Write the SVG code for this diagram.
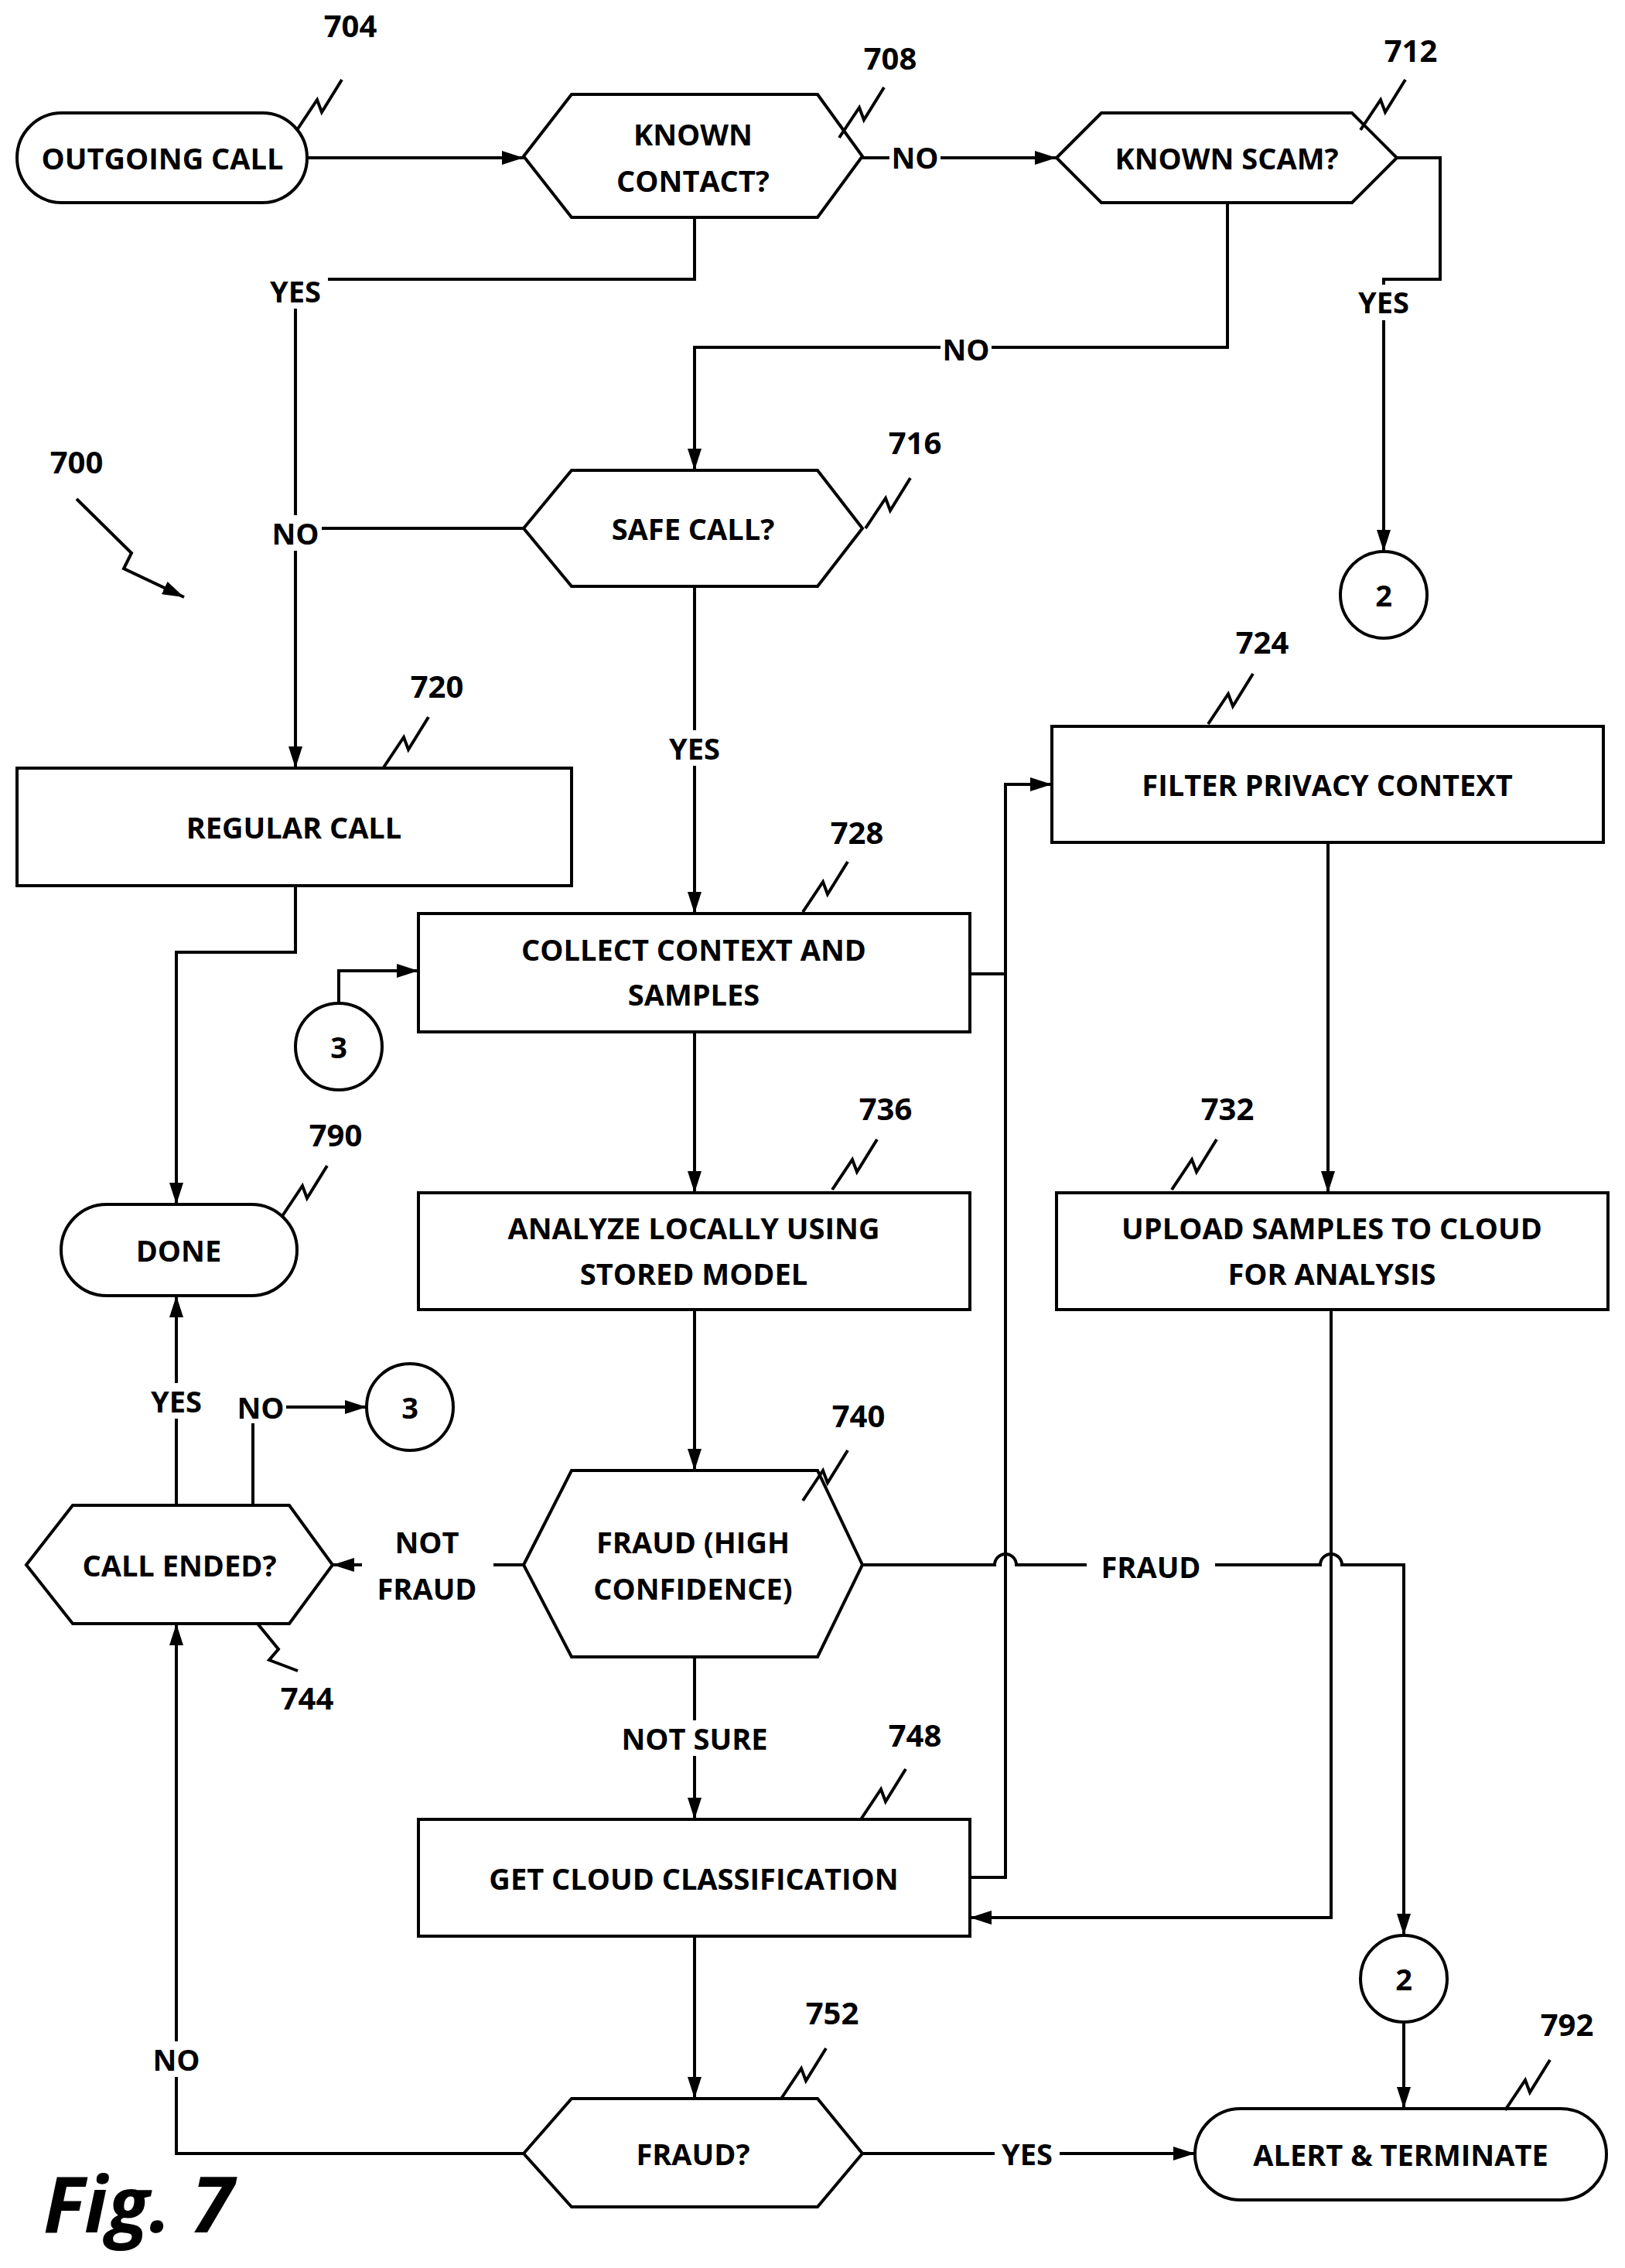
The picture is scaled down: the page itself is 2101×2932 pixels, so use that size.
<svg xmlns="http://www.w3.org/2000/svg" width="2101" height="2932" viewBox="0 0 2101 2932">
<defs>
<style>
.s{fill:#fff;stroke:#000;stroke-width:4}
.c{fill:none;stroke:#000;stroke-width:4}
.t{font-family:"Open Sans","Liberation Sans",sans-serif;font-weight:700;font-size:38px;text-anchor:middle;dominant-baseline:central;fill:#000}
.r{font-family:"Open Sans","Liberation Sans",sans-serif;font-weight:700;font-size:40px;text-anchor:middle;fill:#000}
.lb{fill:#fff;stroke:none}
</style>
<marker id="a" viewBox="0 0 28 18" refX="28" refY="9" markerWidth="28" markerHeight="18" markerUnits="userSpaceOnUse" orient="auto"><path d="M0,0 L28,9 L0,18 Z" fill="#000"/></marker>
<path id="z" d="M0,65 L26,26 L32,42 L58,0" fill="none" stroke="#000" stroke-width="4"/>
</defs>

<g id="connectors">
<path class="c" d="M397,204 H677" marker-end="url(#a)"/>
<path class="c" d="M1115,204 H1366" marker-end="url(#a)"/>
<path class="c" d="M1806,204 H1862 V361 H1789 V713" marker-end="url(#a)"/>
<path class="c" d="M898,281 V361 H382 V993" marker-end="url(#a)"/>
<path class="c" d="M677,683 H382"/>
<path class="c" d="M1587,262 V449 H898 V608" marker-end="url(#a)"/>
<path class="c" d="M898,758 V1181" marker-end="url(#a)"/>
<path class="c" d="M382,1145 V1231 H228 V1557" marker-end="url(#a)"/>
<path class="c" d="M438,1297 V1255 H541" marker-end="url(#a)"/>
<path class="c" d="M1254,1259 H1300 V1014 H1360" marker-end="url(#a)"/>
<path class="c" d="M1300,1259 V2427 H1254"/>
<path class="c" d="M1717,1089 V1542" marker-end="url(#a)"/>
<path class="c" d="M898,1334 V1542" marker-end="url(#a)"/>
<path class="c" d="M898,1693 V1901" marker-end="url(#a)"/>
<path class="c" d="M1721,1693 V2479 H1254" marker-end="url(#a)"/>
<path class="c" d="M1115,2023 H1286 A14,14 0 0 1 1314,2023 H1707 A14,14 0 0 1 1735,2023 H1815 V2502" marker-end="url(#a)"/>
<path class="c" d="M1815,2614 V2726" marker-end="url(#a)"/>
<path class="c" d="M677,2023 H430" marker-end="url(#a)"/>
<path class="c" d="M898,2142 V2352" marker-end="url(#a)"/>
<path class="c" d="M898,2503 V2713" marker-end="url(#a)"/>
<path class="c" d="M1115,2784 H1545" marker-end="url(#a)"/>
<path class="c" d="M677,2784 H228 V2099" marker-end="url(#a)"/>
<path class="c" d="M228,1946 V1675" marker-end="url(#a)"/>
<path class="c" d="M327,1946 V1840"/>
<path class="c" d="M370,1819 H474" marker-end="url(#a)"/>
<rect class="lb" x="1150" y="180" width="66" height="46"/><text class="t" x="1183" y="203">NO</text>
<rect class="lb" x="1749" y="368" width="80" height="46"/><text class="t" x="1789" y="390">YES</text>
<rect class="lb" x="340" y="353" width="84" height="46"/><text class="t" x="382" y="376">YES</text>
<rect class="lb" x="348" y="666" width="68" height="46"/><text class="t" x="382" y="689">NO</text>
<rect class="lb" x="1216" y="426" width="66" height="46"/><text class="t" x="1249" y="451">NO</text>
<rect class="lb" x="856" y="944" width="84" height="46"/><text class="t" x="898" y="967">YES</text>
<rect class="lb" x="1405" y="2000" width="166" height="46"/><text class="t" x="1488" y="2025">FRAUD</text>
<rect class="lb" x="468" y="1966" width="170" height="110"/><text class="t" x="552" y="1993">NOT</text><text class="t" x="552" y="2053">FRAUD</text>
<rect class="lb" x="780" y="2224" width="236" height="46"/><text class="t" x="898" y="2247">NOT SURE</text>
<rect class="lb" x="1286" y="2761" width="84" height="46"/><text class="t" x="1328" y="2784">YES</text>
<rect class="lb" x="194" y="2639" width="68" height="46"/><text class="t" x="228" y="2662">NO</text>
<rect class="lb" x="186" y="1788" width="84" height="46"/><text class="t" x="228" y="1811">YES</text>
<text class="t" x="337" y="1819">NO</text>
</g>

<g id="n704"><rect class="s" x="22" y="146" width="375" height="116" rx="58"/><text class="t" x="210" y="204">OUTGOING CALL</text></g>
<g id="n708"><polygon class="s" points="677,202 739,122 1057,122 1115,202 1057,281 739,281"/><text class="t" x="896" y="173">KNOWN</text><text class="t" x="896" y="233">CONTACT?</text></g>
<g id="n712"><polygon class="s" points="1366,204 1424,146 1748,146 1806,204 1748,262 1424,262"/><text class="t" x="1586" y="204">KNOWN SCAM?</text></g>
<g id="n716"><polygon class="s" points="677,683 739,608 1057,608 1115,683 1057,758 739,758"/><text class="t" x="896" y="683">SAFE CALL?</text></g>
<g id="c2a"><circle class="s" cx="1789" cy="769" r="56"/><text class="t" x="1789" y="769">2</text></g>
<g id="n720"><rect class="s" x="22" y="993" width="717" height="152"/><text class="t" x="380" y="1069">REGULAR CALL</text></g>
<g id="n724"><rect class="s" x="1360" y="939" width="713" height="150"/><text class="t" x="1716" y="1014">FILTER PRIVACY CONTEXT</text></g>
<g id="n728"><rect class="s" x="541" y="1181" width="713" height="153"/><text class="t" x="897" y="1227">COLLECT CONTEXT AND</text><text class="t" x="897" y="1285">SAMPLES</text></g>
<g id="c3a"><circle class="s" cx="438" cy="1353" r="56"/><text class="t" x="438" y="1353">3</text></g>
<g id="n790"><rect class="s" x="79" y="1557" width="305" height="118" rx="59"/><text class="t" x="231" y="1616">DONE</text></g>
<g id="n736"><rect class="s" x="541" y="1542" width="713" height="151"/><text class="t" x="897" y="1587">ANALYZE LOCALLY USING</text><text class="t" x="897" y="1646">STORED MODEL</text></g>
<g id="n732"><rect class="s" x="1366" y="1542" width="713" height="151"/><text class="t" x="1722" y="1587">UPLOAD SAMPLES TO CLOUD</text><text class="t" x="1722" y="1646">FOR ANALYSIS</text></g>
<g id="c3b"><circle class="s" cx="530" cy="1819" r="56"/><text class="t" x="530" y="1819">3</text></g>
<g id="n744"><polygon class="s" points="34,2023 94,1946 374,1946 430,2023 374,2099 94,2099"/><text class="t" x="232" y="2023">CALL ENDED?</text></g>
<g id="n740"><polygon class="s" points="677,2023 739,1901 1057,1901 1115,2023 1057,2142 739,2142"/><text class="t" x="896" y="1993">FRAUD (HIGH</text><text class="t" x="896" y="2053">CONFIDENCE)</text></g>
<g id="n748"><rect class="s" x="541" y="2352" width="713" height="151"/><text class="t" x="897" y="2428">GET CLOUD CLASSIFICATION</text></g>
<g id="c2b"><circle class="s" cx="1815" cy="2558" r="56"/><text class="t" x="1815" y="2558">2</text></g>
<g id="n752"><polygon class="s" points="677,2784 739,2713 1057,2713 1115,2784 1057,2853 739,2853"/><text class="t" x="896" y="2784">FRAUD?</text></g>
<g id="n792"><rect class="s" x="1545" y="2726" width="532" height="118" rx="59"/><text class="t" x="1811" y="2785">ALERT &amp; TERMINATE</text></g>

<g id="refs">
<use href="#z" x="384" y="103"/><text class="r" x="453" y="48">704</text>
<use href="#z" x="1085" y="113"/><text class="r" x="1151" y="90">708</text>
<use href="#z" x="1759" y="103"/><text class="r" x="1824" y="80">712</text>
<use href="#z" x="1119" y="618"/><text class="r" x="1183" y="587">716</text>
<use href="#z" x="496" y="927"/><text class="r" x="565" y="902">720</text>
<use href="#z" x="1562" y="871"/><text class="r" x="1632" y="845">724</text>
<use href="#z" x="1038" y="1114"/><text class="r" x="1108" y="1091">728</text>
<use href="#z" x="1076" y="1473"/><text class="r" x="1145" y="1448">736</text>
<use href="#z" x="365" y="1507"/><text class="r" x="434" y="1482">790</text>
<use href="#z" x="1515" y="1473"/><text class="r" x="1587" y="1448">732</text>
<use href="#z" x="1038" y="1875"/><text class="r" x="1110" y="1845">740</text>
<path d="M333,2099 L360,2132 L348,2146 L385,2160" fill="none" stroke="#000" stroke-width="4"/><text class="r" x="397" y="2210">744</text>
<use href="#z" x="1113" y="2287"/><text class="r" x="1183" y="2258">748</text>
<use href="#z" x="1010" y="2648"/><text class="r" x="1076" y="2617">752</text>
<use href="#z" x="1946" y="2663"/><text class="r" x="2026" y="2632">792</text>
<text class="r" x="99" y="612">700</text>
<path d="M99,645 L170,715 L160,735 L238,772" fill="none" stroke="#000" stroke-width="4" marker-end="url(#a)"/>
<text x="56" y="2886" font-family="'Open Sans','Liberation Sans',sans-serif" font-weight="700" font-style="italic" font-size="100">Fig. 7</text>
</g>
</svg>
